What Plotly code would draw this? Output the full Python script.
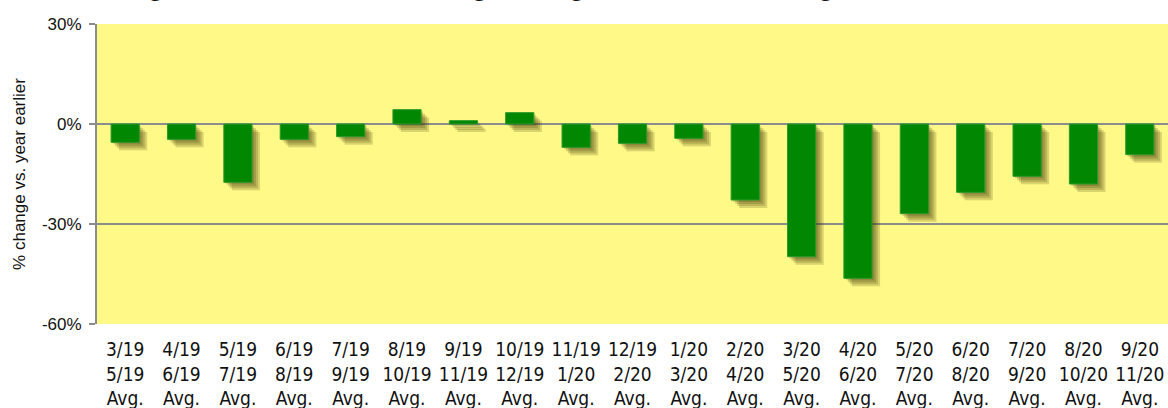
import plotly.graph_objects as go

# three-month windows, % change vs. year earlier
periods = ['3/19<br>5/19<br>Avg.', '4/19<br>6/19<br>Avg.', '5/19<br>7/19<br>Avg.', '6/19<br>8/19<br>Avg.',
           '7/19<br>9/19<br>Avg.', '8/19<br>10/19<br>Avg.', '9/19<br>11/19<br>Avg.', '10/19<br>12/19<br>Avg.',
           '11/19<br>1/20<br>Avg.', '12/19<br>2/20<br>Avg.', '1/20<br>3/20<br>Avg.', '2/20<br>4/20<br>Avg.',
           '3/20<br>5/20<br>Avg.', '4/20<br>6/20<br>Avg.', '5/20<br>7/20<br>Avg.', '6/20<br>8/20<br>Avg.',
           '7/20<br>9/20<br>Avg.', '8/20<br>10/20<br>Avg.', '9/20<br>11/20<br>Avg.']
pct_change = [-5.5, -4.6, -17.5, -4.6, -3.8, 4.3, 1.0, 3.4, -7.0, -5.8,
              -4.3, -22.8, -39.8, -46.3, -26.9, -20.5, -15.7, -18.0, -9.2]
y_ticks = [30, 0, -30, -60]
y_ticklabels = ['30%', '0%', '-30%', '-60%']

title_text = 'Change in Vehicle Miles Moving Average from One Year Ago'

W, H = 1168, 408
L, R, T, B = 97, 0, 24, 84
px_per_cat = (W - L - R) / len(periods)
px_per_pct = (H - T - B) / 90.0

bar_w = 0.5
fig = go.Figure()

# soft drop shadow made of a few stacked, offset translucent bars
for d in [2, 4, 6, 8]:
    fig.add_trace(go.Bar(
        x=periods, y=pct_change,
        base=-d / px_per_pct,
        width=bar_w, offset=-bar_w / 2 + d / px_per_cat,
        marker=dict(color='rgba(60,52,0,0.19)', line=dict(width=0)),
        hoverinfo='skip', showlegend=False))

fig.add_trace(go.Bar(
    x=periods, y=pct_change,
    width=bar_w, offset=-bar_w / 2,
    marker=dict(color='#028702', line=dict(color='#2a9a2a', width=1)),
    showlegend=False))

fig.update_layout(
    width=W, height=H,
    margin=dict(l=L, r=R, t=T, b=B),
    paper_bgcolor='white',
    plot_bgcolor='#FFF987',
    barmode='overlay',
    font=dict(family='Liberation Sans, Arial, sans-serif', color='#111111'),
    xaxis=dict(
        type='category', range=[-0.5, len(periods) - 0.5],
        showgrid=False, zeroline=False, showline=False,
        ticks='', tickangle=0, ticklabelstandoff=12,
        tickfont=dict(family='Liberation Sans Narrow, DejaVu Sans Condensed, Arial Narrow, sans-serif',
                      size=19, color='#111111'),
    ),
    # axis line along 0% with small tick marks between categories
    xaxis2=dict(
        overlaying='x', anchor='free', position=60 / 90,
        range=[-0.5, len(periods) - 0.5],
        tickvals=[i + 0.5 for i in range(len(periods) - 1)],
        showticklabels=False, showgrid=False, zeroline=False,
        showline=True, linecolor='#8c8c8c', linewidth=2,
        ticks='outside', ticklen=4, tickwidth=2, tickcolor='#8c8c8c',
    ),
    yaxis=dict(
        range=[-60, 30], tickvals=y_ticks, ticktext=y_ticklabels,
        showgrid=True, gridcolor='#8c8c8c', gridwidth=2,
        zeroline=False, showline=True, linecolor='#8c8c8c', linewidth=2,
        ticks='outside', ticklen=6, tickwidth=2, tickcolor='#8c8c8c',
        ticklabelstandoff=4,
        tickfont=dict(size=17, color='#111111'),
        title=dict(text='% change vs. year earlier', font=dict(size=17, color='#111111'), standoff=12),
    ),
)

# title sits mostly above the visible page, only descenders show
fig.add_annotation(
    text='<b>' + title_text + '</b>',
    xref='paper', yref='paper', x=(78 - L) / (W - L - R), y=1,
    xanchor='left', yanchor='bottom', yshift=21, showarrow=False,
    font=dict(family='Liberation Sans, Arial, sans-serif', size=27, color='#111111'))

fig.write_html('out.html', config={'displayModeBar': False},
               post_script="document.body.style.margin='0';document.body.style.overflow='hidden';")
